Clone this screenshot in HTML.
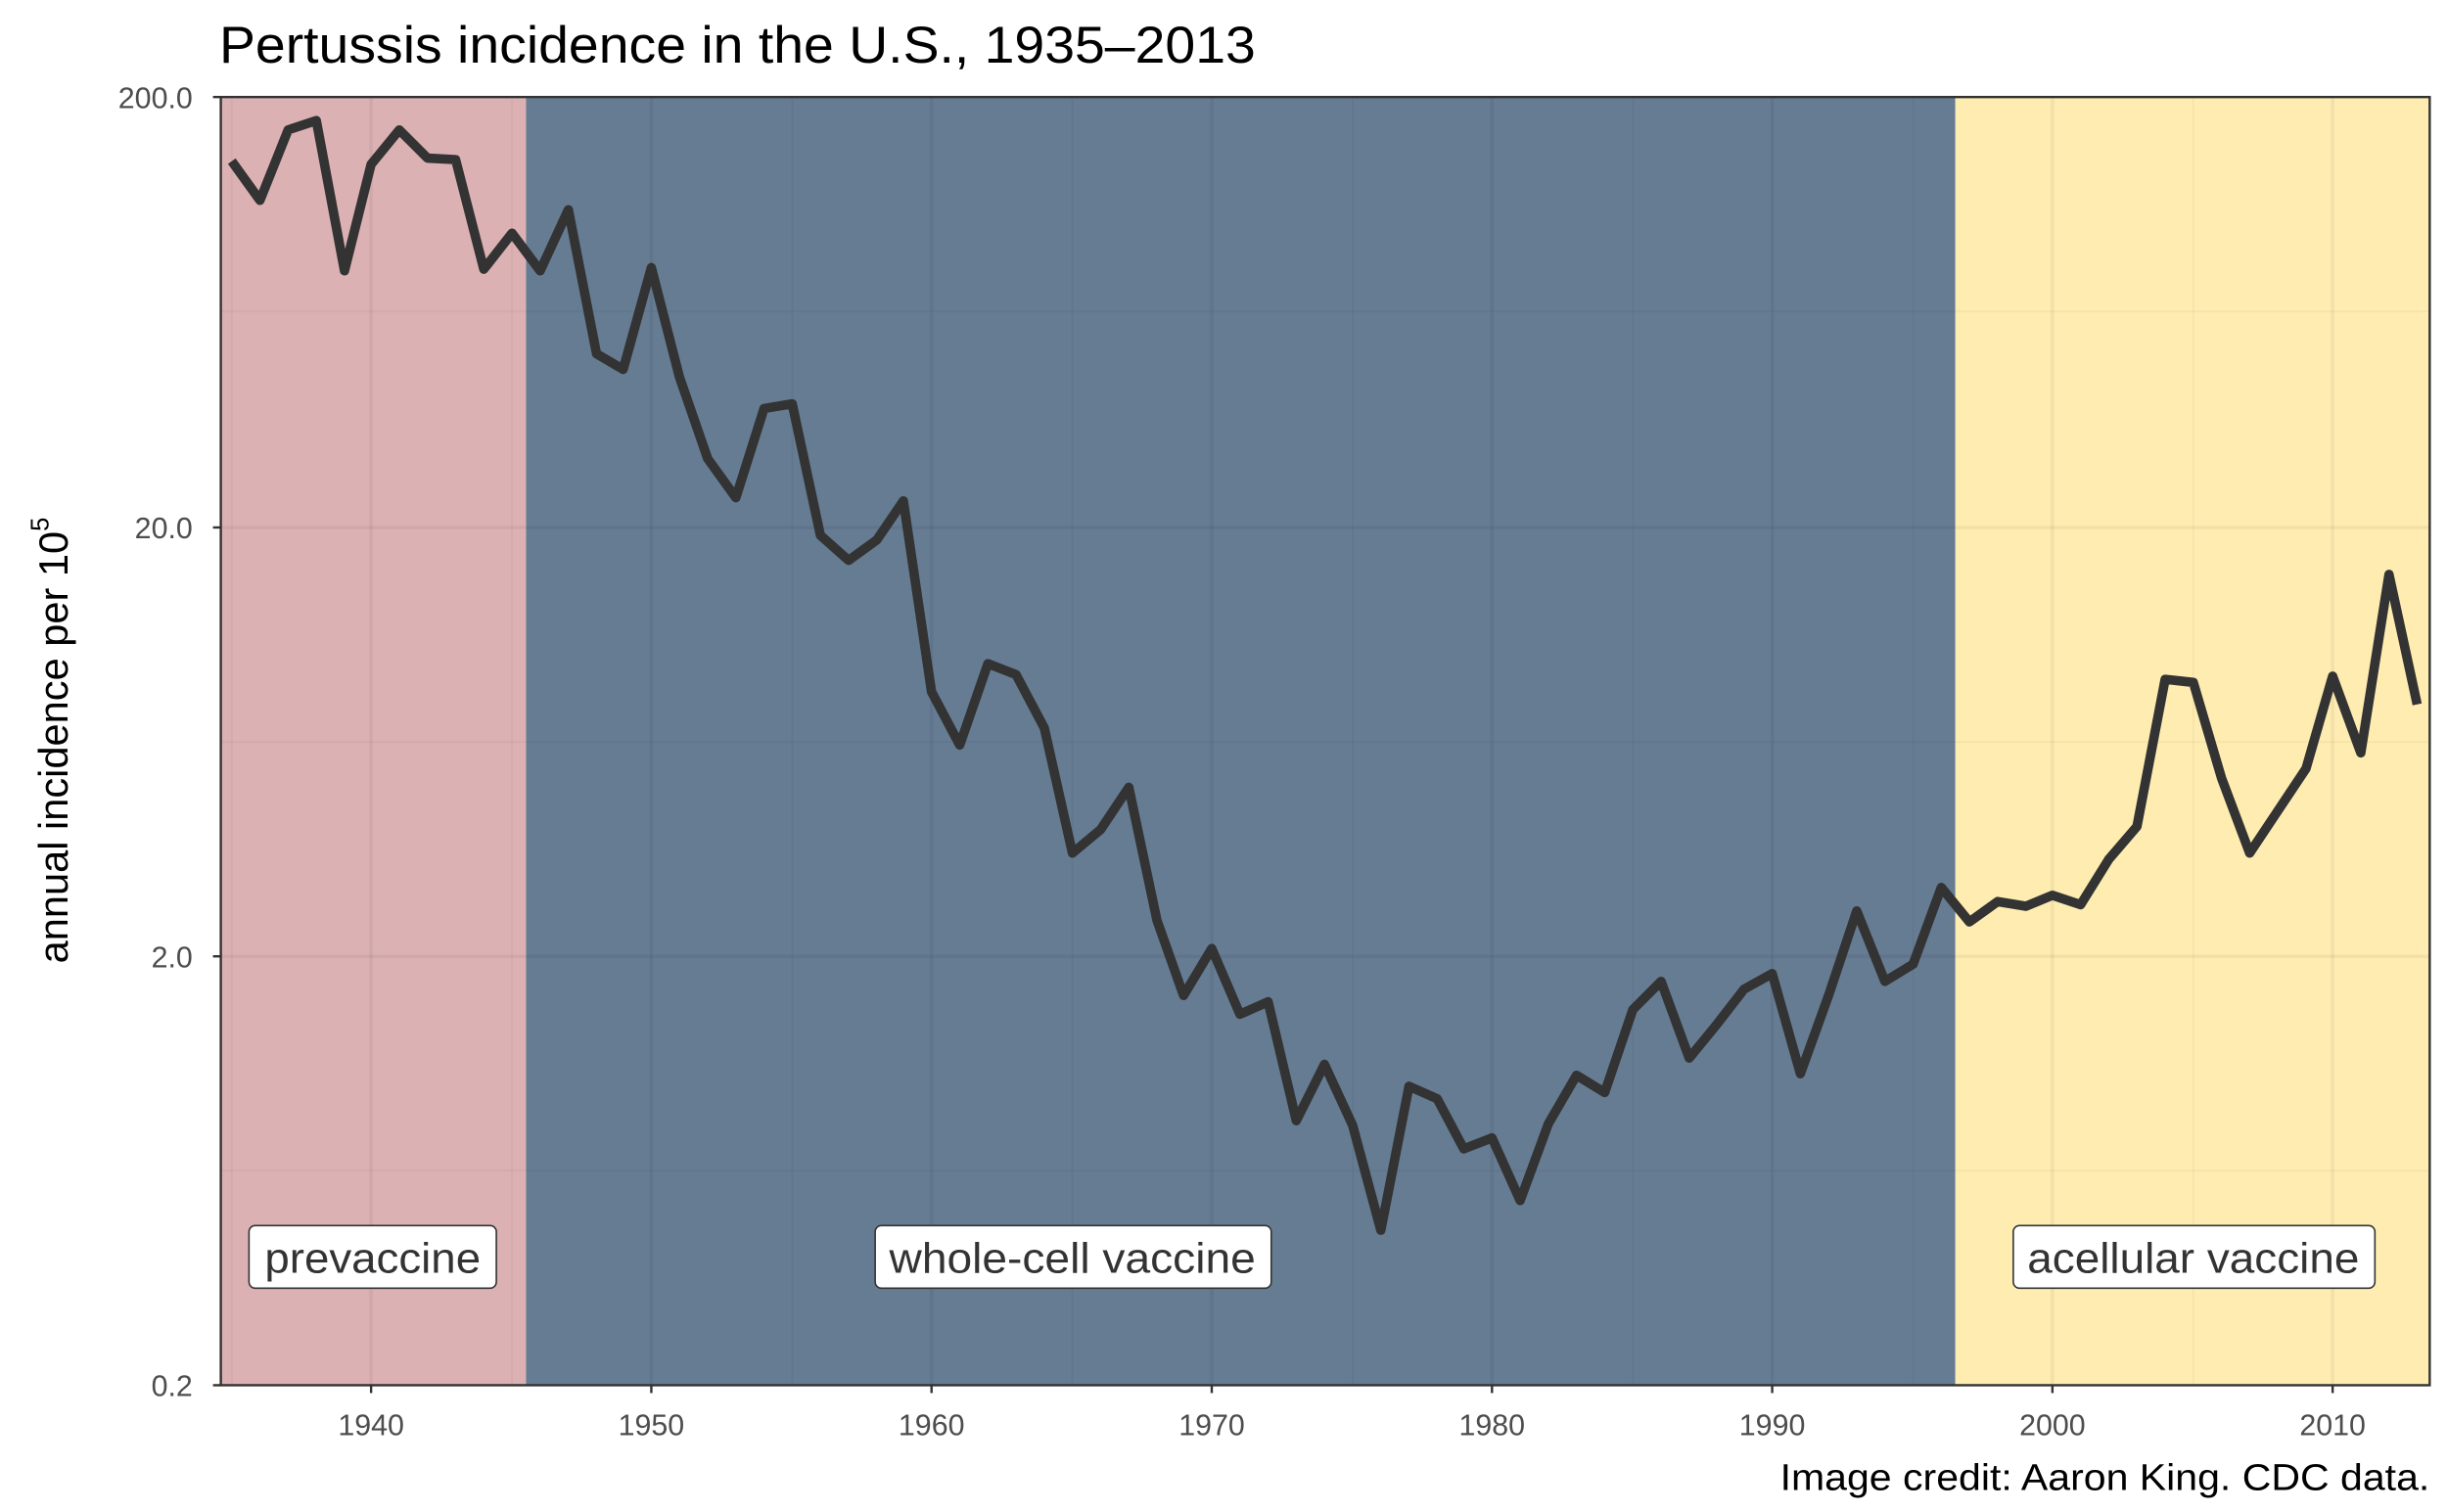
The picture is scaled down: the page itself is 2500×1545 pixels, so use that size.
<!DOCTYPE html>
<html><head><meta charset="utf-8"><style>
html,body{margin:0;padding:0;background:#fff;}
svg{display:block;}
text{font-family:"Liberation Sans",sans-serif;}
</style></head><body>
<svg width="2500" height="1545" viewBox="0 0 1563 966" xmlns="http://www.w3.org/2000/svg">
<rect x="0" y="0" width="1563" height="966" fill="#fff"/>
<rect x="141" y="62" width="195" height="823" fill="#dcb1b3"/>
<rect x="336" y="62" width="913" height="823" fill="#667c93"/>
<rect x="1249" y="62" width="303" height="823" fill="#feecb1"/>
<g stroke="#000" stroke-opacity="0.035" stroke-width="1.2">
<line x1="148" y1="62" x2="148" y2="885"/><line x1="327" y1="62" x2="327" y2="885"/><line x1="506" y1="62" x2="506" y2="885"/><line x1="685" y1="62" x2="685" y2="885"/><line x1="864" y1="62" x2="864" y2="885"/><line x1="1043" y1="62" x2="1043" y2="885"/><line x1="1222" y1="62" x2="1222" y2="885"/><line x1="1401" y1="62" x2="1401" y2="885"/>
<line x1="141" y1="199" x2="1552" y2="199"/><line x1="141" y1="474" x2="1552" y2="474"/><line x1="141" y1="748" x2="1552" y2="748"/>
</g>
<g stroke="#000" stroke-opacity="0.05" stroke-width="2.2">
<line x1="237" y1="62" x2="237" y2="885"/><line x1="416" y1="62" x2="416" y2="885"/><line x1="595" y1="62" x2="595" y2="885"/><line x1="774" y1="62" x2="774" y2="885"/><line x1="953" y1="62" x2="953" y2="885"/><line x1="1132" y1="62" x2="1132" y2="885"/><line x1="1311" y1="62" x2="1311" y2="885"/><line x1="1490" y1="62" x2="1490" y2="885"/>
<line x1="141" y1="337" x2="1552" y2="337"/><line x1="141" y1="611" x2="1552" y2="611"/>
</g>
<polyline fill="none" stroke="#333" stroke-width="6" stroke-linejoin="round" points="148,103 166,128 184,83 202,77 220,173 237,105 255,83 273,101 291,102 309,172 327,149 345,173 363,134 381,226 398,236 416,171 434,241 452,293 470,318 488,261 506,258 524,342 542,358 560,345 577,320 595,442 613,476 631,424 649,431 667,465 685,545 703,530 721,503 739,588 756,636 774,606 792,648 810,640 828,716 846,680 864,719 882,786 900,694 918,702 935,734 953,727 971,767 989,718 1007,687 1025,698 1043,645 1061,627 1079,676 1097,654 1114,632 1132,622 1150,686 1168,636 1186,582 1204,627 1222,616 1240,567 1258,589 1276,576 1294,579 1311,572 1329,578 1347,549 1365,528 1383,434 1401,436 1419,497 1437,545 1455,518 1473,491 1490,432 1508,481 1526,367 1544,450"/>
<g font-size="27" fill="#333" text-anchor="middle">
<rect x="159" y="783" width="158" height="40" rx="4" fill="#fff" stroke="#333" stroke-width="1"/>
<text x="238" y="813" textLength="138" lengthAdjust="spacingAndGlyphs">prevaccine</text>
<rect x="559" y="783" width="253" height="40" rx="4" fill="#fff" stroke="#333" stroke-width="1"/>
<text x="685" y="813" textLength="234" lengthAdjust="spacingAndGlyphs">whole-cell vaccine</text>
<rect x="1286" y="783" width="231" height="40" rx="4" fill="#fff" stroke="#333" stroke-width="1"/>
<text x="1401" y="813" textLength="212" lengthAdjust="spacingAndGlyphs">acellular vaccine</text>
</g>
<rect x="141" y="62" width="1411" height="823" fill="none" stroke="#333" stroke-width="1.5"/>
<g stroke="#333" stroke-width="1.5">
<line x1="136" y1="62" x2="141" y2="62"/><line x1="136" y1="337" x2="141" y2="337"/><line x1="136" y1="611" x2="141" y2="611"/><line x1="136" y1="885" x2="141" y2="885"/>
<line x1="237" y1="885" x2="237" y2="890"/><line x1="416" y1="885" x2="416" y2="890"/><line x1="595" y1="885" x2="595" y2="890"/><line x1="774" y1="885" x2="774" y2="890"/><line x1="953" y1="885" x2="953" y2="890"/><line x1="1132" y1="885" x2="1132" y2="890"/><line x1="1311" y1="885" x2="1311" y2="890"/><line x1="1490" y1="885" x2="1490" y2="890"/>
</g>
<g font-size="19" fill="#4d4d4d" text-anchor="end">
<text x="123" y="69">200.0</text><text x="123" y="344">20.0</text><text x="123" y="618">2.0</text><text x="123" y="892">0.2</text>
</g>
<g font-size="19" fill="#4d4d4d" text-anchor="middle">
<text x="237" y="917">1940</text><text x="416" y="917">1950</text><text x="595" y="917">1960</text><text x="774" y="917">1970</text><text x="953" y="917">1980</text><text x="1132" y="917">1990</text><text x="1311" y="917">2000</text><text x="1490" y="917">2010</text>
</g>
<text x="140" y="40" font-size="33" fill="#000" textLength="662" lengthAdjust="spacingAndGlyphs">Pertussis incidence in the U.S., 1935–2013</text>
<text x="1552" y="952" font-size="24" fill="#000" text-anchor="end" textLength="415" lengthAdjust="spacingAndGlyphs">Image credit: Aaron King. CDC data.</text>
<text transform="translate(43,473) rotate(-90)" font-size="26" fill="#000" text-anchor="middle">annual incidence per 10<tspan font-size="16" dy="-12">5</tspan></text>
</svg>
</body></html>
